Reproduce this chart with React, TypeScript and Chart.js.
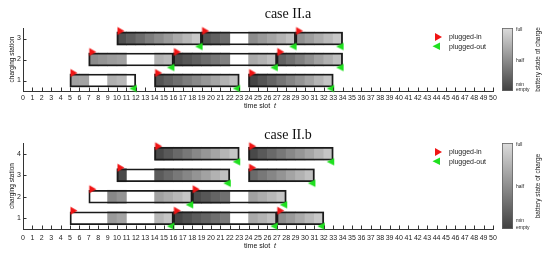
import React, { useEffect, useRef } from "react";
import { Chart, registerables } from "chart.js";

Chart.register(...registerables);

const FONT = '"Liberation Sans", Arial, sans-serif';
const SERIF = '"Liberation Serif", "Times New Roman", serif';

type Seg = [number, number[]];
type Sess = [number, number];

const X_TICKS = [
  0, 1, 2, 3, 4, 5, 6, 7, 8, 9, 10, 11, 12, 13, 14, 15, 16, 17, 18, 19, 20, 21, 22, 23, 24, 25,
  26, 27, 28, 29, 30, 31, 32, 33, 34, 35, 36, 37, 38, 39, 40, 41, 42, 43, 44, 45, 46, 47, 48, 49, 50,
];

// ---- case II.a ----
const STATIONS_A = [1, 2, 3];
const SESSIONS_A1: Sess[] = [[5, 12], [14, 23], [24, 33]];
const SESSIONS_A2: Sess[] = [[7, 16], [16, 27], [27, 34]];
const SESSIONS_A3: Sess[] = [[10, 19], [19, 29], [29, 34]];
// battery state of charge per time slot: [first slot, values]; slots not listed are white
const SOC_A1: Seg[] = [
  [5, [0.62, 0.64]],
  [9, [0.72, 0.77]],
  [14, [0.13, 0.22, 0.3, 0.39, 0.47, 0.56, 0.65, 0.73, 0.82]],
  [24, [0.03, 0.13, 0.23, 0.34, 0.44, 0.54, 0.64, 0.75, 0.85]],
];
const SOC_A2: Seg[] = [
  [7, [0.49, 0.54, 0.59, 0.62]],
  [14, [0.74, 0.79]],
  [16, [0.08, 0.15, 0.21, 0.28, 0.35, 0.41]],
  [24, [0.68, 0.74, 0.82]],
  [27, [0.21, 0.31, 0.41, 0.51, 0.62, 0.72, 0.82]],
];
const SOC_A3: Seg[] = [
  [10, [0.1, 0.2, 0.29, 0.39, 0.49, 0.58, 0.68, 0.77, 0.87]],
  [19, [0.13, 0.21, 0.28]],
  [24, [0.49, 0.57, 0.65, 0.74, 0.82]],
  [29, [0.51, 0.6, 0.69, 0.78, 0.87]],
];

// ---- case II.b ----
const STATIONS_B = [1, 2, 3, 4];
const SESSIONS_B1: Sess[] = [[5, 16], [16, 27], [27, 32]];
const SESSIONS_B2: Sess[] = [[7, 18], [18, 28]];
const SESSIONS_B3: Sess[] = [[10, 22], [24, 31]];
const SESSIONS_B4: Sess[] = [[14, 23], [24, 33]];
const SOC_B1: Seg[] = [
  [9, [0.58, 0.64]],
  [14, [0.77, 0.85]],
  [16, [0.03, 0.1, 0.17, 0.23, 0.3, 0.37]],
  [24, [0.67, 0.74, 0.82]],
  [27, [0.49, 0.58, 0.68, 0.78, 0.87]],
];
const SOC_B2: Seg[] = [
  [9, [0.46, 0.54]],
  [14, [0.62, 0.69, 0.77, 0.85]],
  [18, [0.08, 0.15, 0.23, 0.31]],
  [24, [0.62, 0.69, 0.77, 0.85]],
];
const SOC_B3: Seg[] = [
  [10, [0.06]],
  [14, [0.17, 0.26, 0.36, 0.45, 0.54, 0.63, 0.73, 0.82]],
  [24, [0.27, 0.36, 0.45, 0.54, 0.64, 0.73, 0.82]],
];
const SOC_B4: Seg[] = [
  [14, [0.06, 0.16, 0.26, 0.36, 0.46, 0.55, 0.65, 0.75, 0.85]],
  [24, [0.06, 0.16, 0.26, 0.36, 0.46, 0.55, 0.65, 0.75, 0.85]],
];

const RED = "#f01414";
const GREEN = "#1fe01f";

function gray(v: number) {
  const g = Math.round(64 + v * 156);
  return `rgb(${g},${g},${g})`;
}

function makeTri(kind: "in" | "out") {
  const c = document.createElement("canvas");
  c.width = 26;
  c.height = 26;
  const g = c.getContext("2d")!;
  g.beginPath();
  if (kind === "in") {
    g.moveTo(13.5, 1.5);
    g.lineTo(13.5, 9.5);
    g.lineTo(20.5, 5.5);
    g.fillStyle = RED;
  } else {
    g.moveTo(14, 17.3);
    g.lineTo(14, 24.7);
    g.lineTo(6.5, 21);
    g.fillStyle = GREEN;
  }
  g.closePath();
  g.fill();
  return c;
}

interface PanelCfg {
  title: string;
  height: number;
  padTop: number;
  xAxisH: number;
  xTickPad: number;
  titleY: number;
  xTitleOff: number;
  stations: number[];
  sessions: Sess[][];
  socs: Seg[][];
}

const PANEL_A: PanelCfg = {
  title: "case II.a",
  height: 120,
  padTop: 28,
  xAxisH: 29,
  xTickPad: 3,
  titleY: 18.3,
  xTitleOff: 15.5,
  stations: STATIONS_A,
  sessions: [SESSIONS_A1, SESSIONS_A2, SESSIONS_A3],
  socs: [SOC_A1, SOC_A2, SOC_A3],
};

const PANEL_B: PanelCfg = {
  title: "case II.b",
  height: 134,
  padTop: 23,
  xAxisH: 25,
  xTickPad: 4.5,
  titleY: 19,
  xTitleOff: 17,
  stations: STATIONS_B,
  sessions: [SESSIONS_B1, SESSIONS_B2, SESSIONS_B3, SESSIONS_B4],
  socs: [SOC_B1, SOC_B2, SOC_B3, SOC_B4],
};

function buildConfig(p: PanelCfg): any {
  const inImg = makeTri("in");
  const outImg = makeTri("out");
  const cells: any[] = [];
  const cellColors: string[] = [];
  const outlines: any[] = [];
  const ins: any[] = [];
  const outs: any[] = [];
  p.stations.forEach((s, k) => {
    p.socs[k].forEach(([start, vals]) =>
      vals.forEach((v, i) => {
        cells.push({ x: [start + i, start + i + 1], y: s });
        cellColors.push(gray(v));
      })
    );
    p.sessions[k].forEach(([a, b]) => {
      outlines.push({ x: [a, b], y: s });
      ins.push({ x: a, y: s });
      outs.push({ x: b, y: s });
    });
  });

  const decor = {
    id: "decor",
    afterDraw(chart: any) {
      const { ctx, chartArea: a, scales } = chart;
      const xs = scales.x;
      const ys = scales.y;
      ctx.save();
      // inward tick marks
      ctx.strokeStyle = "#333";
      ctx.lineWidth = 1;
      ctx.beginPath();
      X_TICKS.forEach((v) => {
        const px = Math.round(xs.getPixelForValue(v)) + 0.5;
        ctx.moveTo(px, a.bottom);
        ctx.lineTo(px, a.bottom - 3.5);
      });
      p.stations.forEach((v) => {
        const py = Math.round(ys.getPixelForValue(v)) + 0.5;
        ctx.moveTo(a.left, py);
        ctx.lineTo(a.left + 3.5, py);
      });
      ctx.stroke();

      // title
      ctx.fillStyle = "#111";
      ctx.font = `14px ${SERIF}`;
      ctx.textAlign = "center";
      ctx.textBaseline = "alphabetic";
      ctx.fillText(p.title, 288, p.titleY);

      // x title: time slot t
      ctx.font = `7px ${FONT}`;
      ctx.textBaseline = "middle";
      ctx.textAlign = "left";
      const t1 = "time slot  ";
      const w1 = ctx.measureText(t1).width;
      ctx.font = `italic 7px ${FONT}`;
      const w2 = ctx.measureText("t").width;
      const cx = (a.left + a.right) / 2 + 2;
      const x0 = cx - (w1 + w2) / 2;
      const yT = a.bottom + p.xTitleOff;
      ctx.font = `7px ${FONT}`;
      ctx.fillText(t1, x0, yT);
      ctx.font = `italic 7px ${FONT}`;
      ctx.fillText("t", x0 + w1, yT);

      // y title
      ctx.save();
      ctx.translate(12.5, (a.top + a.bottom) / 2);
      ctx.rotate(-Math.PI / 2);
      ctx.font = `6.5px ${FONT}`;
      ctx.textAlign = "center";
      ctx.fillText("charging station", 0, 0);
      ctx.restore();

      // legend
      const lx = a.right - 58;
      const ly1 = a.top + 9;
      const ly2 = a.top + 18.3;
      ctx.fillStyle = RED;
      ctx.beginPath();
      ctx.moveTo(lx, ly1 - 4);
      ctx.lineTo(lx, ly1 + 4);
      ctx.lineTo(lx + 7, ly1);
      ctx.closePath();
      ctx.fill();
      ctx.fillStyle = GREEN;
      ctx.beginPath();
      ctx.moveTo(lx + 5, ly2 - 3.7);
      ctx.lineTo(lx + 5, ly2 + 3.7);
      ctx.lineTo(lx - 2.5, ly2);
      ctx.closePath();
      ctx.fill();
      ctx.fillStyle = "#222";
      ctx.font = `7px ${FONT}`;
      ctx.textAlign = "left";
      ctx.fillText("plugged-in", a.right - 44, ly1 + 0.5);
      ctx.fillText("plugged-out", a.right - 44, ly2 + 0.3);

      // colour bar
      const bx = a.right + 9;
      const bw = 11;
      const h = a.bottom - a.top;
      const grad = ctx.createLinearGradient(0, a.top, 0, a.bottom);
      grad.addColorStop(0, gray(1));
      grad.addColorStop(1, gray(0));
      ctx.fillStyle = grad;
      ctx.fillRect(bx, a.top, bw, h);
      ctx.strokeStyle = "#666";
      ctx.lineWidth = 0.8;
      ctx.strokeRect(bx + 0.4, a.top + 0.4, bw - 0.8, h - 0.8);
      ctx.fillStyle = "#222";
      ctx.font = `5px ${FONT}`;
      ctx.textAlign = "left";
      const tx = bx + bw + 3;
      ctx.fillText("full", tx, a.top + 1.5);
      ctx.fillText("half", tx, a.top + h * 0.51);
      ctx.fillText("min", tx, a.bottom - h * 0.095);
      ctx.fillText("empty", tx, a.bottom - 1);

      ctx.save();
      ctx.translate(a.right + 45, (a.top + a.bottom) / 2);
      ctx.rotate(-Math.PI / 2);
      ctx.font = `6.5px ${FONT}`;
      ctx.textAlign = "center";
      ctx.fillText("battery state of charge", 0, 0);
      ctx.restore();

      ctx.restore();
    },
  };

  return {
    type: "bar",
    data: {
      datasets: [
        { type: "scatter", data: ins, pointStyle: inImg, pointRadius: 5, clip: false, order: 0 },
        { type: "scatter", data: outs, pointStyle: outImg, pointRadius: 5, clip: false, order: 0 },
        {
          type: "bar",
          data: outlines,
          backgroundColor: "rgba(0,0,0,0)",
          borderColor: "#1a1a1a",
          borderWidth: 1.2,
          borderSkipped: false,
          barThickness: 13,
          grouped: false,
          order: 1,
        },
        {
          type: "bar",
          data: cells,
          backgroundColor: cellColors,
          borderWidth: 0,
          barThickness: 13,
          grouped: false,
          order: 2,
        },
      ],
    },
    options: {
      indexAxis: "y",
      animation: false,
      responsive: false,
      devicePixelRatio: 1,
      events: [],
      layout: { padding: { left: 0, right: 57, top: p.padTop, bottom: 0 } },
      plugins: { legend: { display: false }, tooltip: { enabled: false }, title: { display: false } },
      scales: {
        x: {
          type: "linear",
          min: 0,
          max: 50,
          offset: false,
          grid: { display: false, drawTicks: false, offset: false },
          border: { display: true, color: "#333", width: 1 },
          ticks: { autoSkip: false, maxRotation: 0, color: "#222", padding: p.xTickPad, font: { size: 7, family: FONT } },
          afterBuildTicks: (s: any) => {
            s.ticks = X_TICKS.map((v) => ({ value: v }));
          },
          afterFit: (s: any) => {
            s.height = p.xAxisH;
          },
        },
        y: {
          type: "linear",
          min: 0.5,
          max: p.stations.length + 0.5,
          offset: false,
          grid: { display: false, drawTicks: false, offset: false },
          border: { display: true, color: "#333", width: 1 },
          ticks: { color: "#222", padding: 2, font: { size: 7, family: FONT } },
          afterBuildTicks: (s: any) => {
            s.ticks = p.stations.map((v) => ({ value: v }));
          },
          afterFit: (s: any) => {
            s.width = 23;
          },
        },
      },
    },
    plugins: [decor],
  };
}

function Panel({ cfg }: { cfg: PanelCfg }) {
  const ref = useRef<HTMLCanvasElement>(null);
  useEffect(() => {
    const chart = new Chart(ref.current!, buildConfig(cfg));
    return () => chart.destroy();
  }, [cfg]);
  return (
    <canvas
      ref={ref}
      width={550}
      height={cfg.height}
      style={{ display: "block", width: 550, height: cfg.height }}
    />
  );
}

export default function App() {
  return (
    <div style={{ position: "fixed", left: 0, top: 0, width: 550, height: 254, background: "#fff" }}>
      <Panel cfg={PANEL_A} />
      <Panel cfg={PANEL_B} />
    </div>
  );
}
